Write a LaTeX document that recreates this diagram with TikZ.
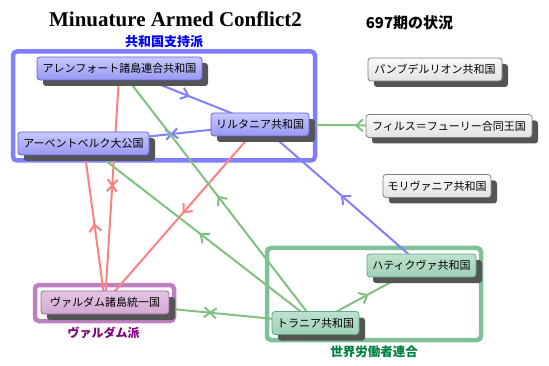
\documentclass[tikz,border=0pt]{standalone}
\usepackage{fontspec}
\setmainfont{Liberation Serif}
\newfontfamily\jp{Noto Sans CJK JP}
\usetikzlibrary{arrows.meta,decorations.markings,shadows}
\definecolor{gblue}{HTML}{8080FF}
\definecolor{gpurple}{HTML}{C080C0}
\definecolor{ggreen}{HTML}{80C098}
\definecolor{eblue}{HTML}{8080FF}
\definecolor{ered}{HTML}{FF8080}
\definecolor{egreen}{HTML}{80C080}
\definecolor{shadowc}{HTML}{555555}
\definecolor{lblue}{HTML}{0000FF}
\definecolor{lpurple}{HTML}{800080}
\definecolor{lgreen}{HTML}{008040}
\pgfdeclarelayer{groups}
\pgfdeclarelayer{edges}
\pgfsetlayers{groups,edges,main}
\tikzset{
  nd/.style={rounded corners=3pt, minimum height=23pt, inner sep=0pt,
    font=\jp\fontsize{11}{13}\selectfont, line width=0.8pt,
    drop shadow={shadow xshift=6pt, shadow yshift=-6pt, fill=shadowc, opacity=1}},
  bluend/.style={nd, draw={rgb,255:red,96;green,96;blue,232}, top color={rgb,255:red,200;green,200;blue,255}, bottom color={rgb,255:red,152;green,152;blue,240}},
  grayend/.style={nd, draw={rgb,255:red,128;green,128;blue,128}, top color={rgb,255:red,250;green,250;blue,250}, bottom color={rgb,255:red,226;green,226;blue,226}},
  greennd/.style={nd, draw={rgb,255:red,96;green,168;blue,136}, top color={rgb,255:red,188;green,226;blue,206}, bottom color={rgb,255:red,160;green,208;blue,184}},
  purplend/.style={nd, draw={rgb,255:red,160;green,96;blue,160}, top color={rgb,255:red,228;green,196;blue,228}, bottom color={rgb,255:red,210;green,168;blue,210}},
  grp/.style={line width=4.5pt, rounded corners=4pt},
  conn/.style={line width=2pt},
  arrowmid/.style={postaction={decorate}, decoration={markings,
    mark=at position 0.5 with {\arrow{Straight Barb[length=7pt,width=12pt]}}}},
  crossmid/.style={postaction={decorate}, decoration={markings,
    mark=at position 0.5 with {\draw[line width=2pt] (-6pt,-5pt)--(6pt,5pt) (-6pt,5pt)--(6pt,-5pt);}}},
  grplabel/.style={font=\jp\bfseries\fontsize{13}{15}\selectfont}
}
\begin{document}
\begin{tikzpicture}[x=1pt,y=-1pt]
\useasboundingbox (0,0) rectangle (549,366);
% titles
\node[anchor=base, font=\bfseries\fontsize{21}{24}\selectfont] (title) at (175.5,27) {Minuature Armed Conflict2};
\node[font=\jp\bfseries\fontsize{15}{17}\selectfont] (period) at (409.5,22.5) {697期の状況};
% nodes
\node[bluend, minimum width=165pt] (allen) at (119.5,68.5) {アレンフォート諸島連合共和国};
\node[bluend, minimum width=98pt] (rilt) at (260,124.5) {リルタニア共和国};
\node[bluend, minimum width=131pt] (abend) at (83.5,143.5) {アーベントベルク大公国};
\node[grayend, minimum width=134pt] (pan) at (435,69.5) {パンブデルリオン共和国};
\node[grayend, minimum width=166pt] (fils) at (449,126) {フィルス＝フューリー合同王国};
\node[grayend, minimum width=108pt] (mori) at (437,186) {モリヴァニア共和国};
\node[greennd, minimum width=109pt] (hatic) at (421.5,265.5) {ハティクヴァ共和国};
\node[greennd, minimum width=87pt] (tora) at (315.5,323) {トラニア共和国};
\node[purplend, minimum width=128pt] (vald) at (105,302.5) {ヴァルダム諸島統一国};
% group labels
\node[grplabel, text=lblue] (lab1) at (164,42) {共和国支持派};
\node[grplabel, text=lpurple, font=\jp\bfseries\fontsize{12}{14}\selectfont] (lab2) at (103.5,333) {ヴァルダム派};
\node[grplabel, text=lgreen, font=\jp\bfseries\fontsize{12.5}{14}\selectfont] (lab3) at (374,352) {世界労働者連合};
% groups
\begin{pgfonlayer}{groups}
\draw[grp, gblue] (13,51.5) rectangle (315,160.5);
\draw[grp, gpurple] (35,285) rectangle (174,321);
\draw[grp, ggreen] (267,248) rectangle (481,340);
\end{pgfonlayer}
% edges
\begin{pgfonlayer}{edges}
\draw[conn, eblue, arrowmid] (allen.center) -- (rilt.center);
\draw[conn, eblue, crossmid] (abend.center) -- (rilt.center);
\draw[conn, eblue, arrowmid] (hatic.center) -- (rilt.center);
\draw[conn, ered, crossmid] (allen.center) -- (vald.center);
\draw[conn, ered, arrowmid] (vald.center) -- (abend.center);
\draw[conn, ered, arrowmid] (rilt.center) -- (vald.center);
\draw[conn, egreen, arrowmid] (fils.center) -- (rilt.center);
\draw[conn, egreen, arrowmid] (tora.center) -- (allen.center);
\draw[conn, egreen, arrowmid] (tora.center) -- (abend.center);
\draw[conn, egreen, arrowmid] (tora.center) -- (hatic.center);
\draw[conn, egreen, crossmid] (vald.center) -- (tora.center);
\end{pgfonlayer}
\end{tikzpicture}
\end{document}
